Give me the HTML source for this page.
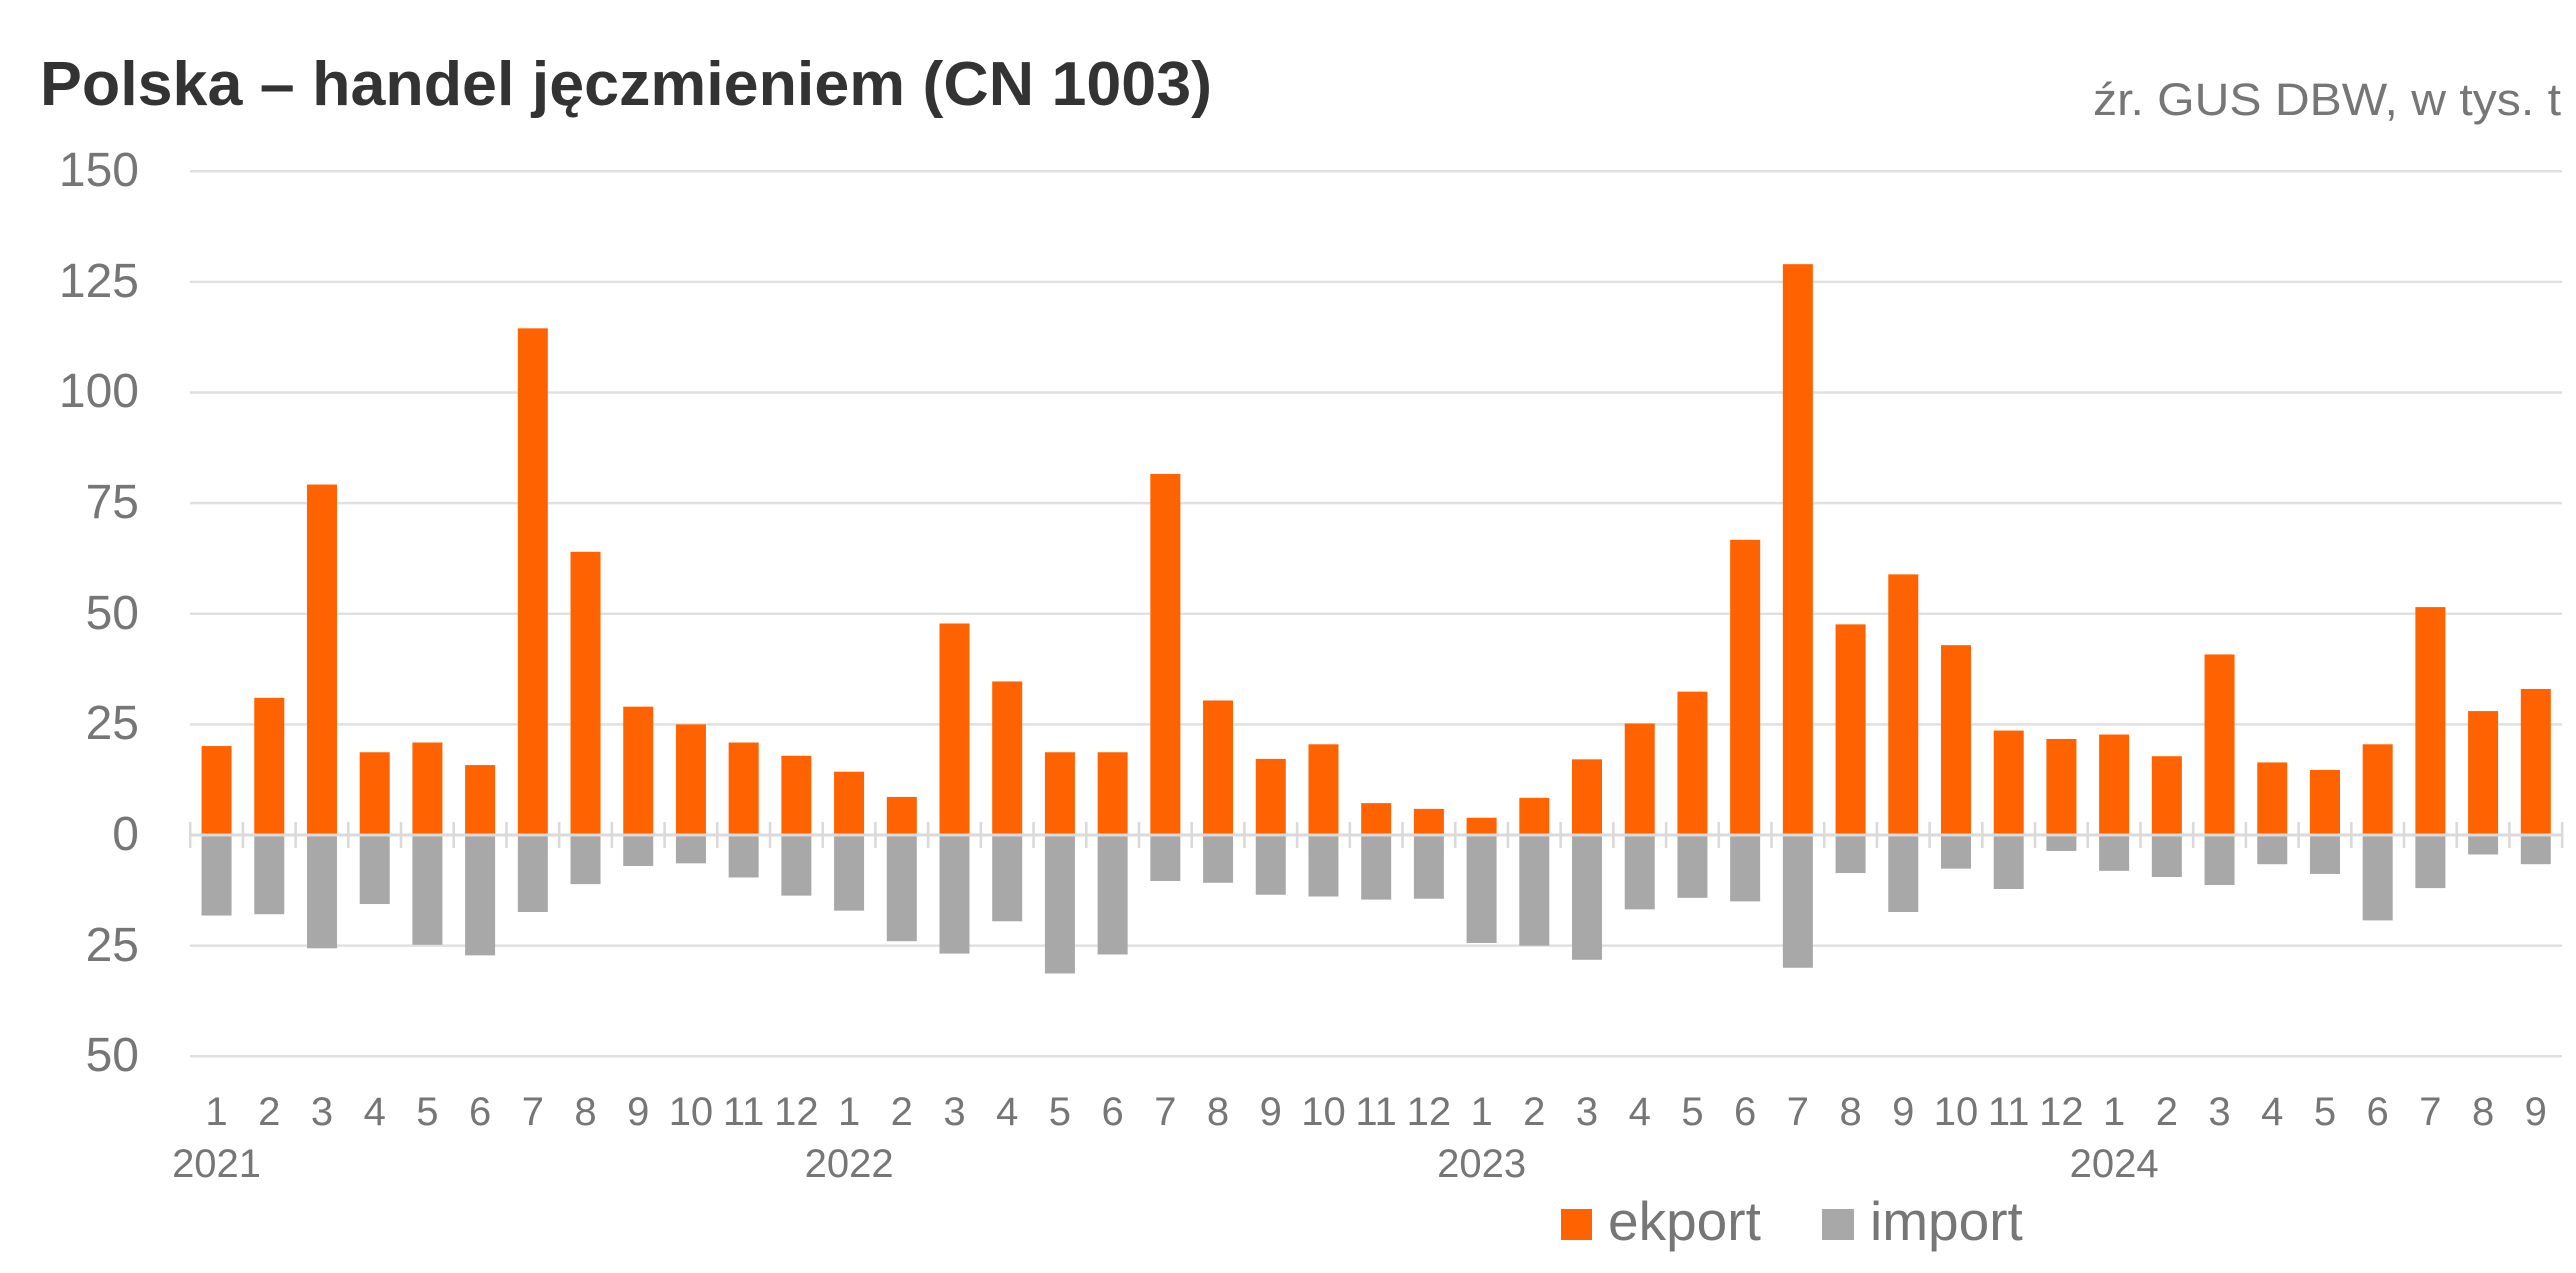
<!DOCTYPE html>
<html>
<head>
<meta charset="utf-8">
<style>
html,body{margin:0;padding:0;background:#fff;}
svg{display:block;}
text{font-family:"Liberation Sans", Arial, sans-serif;}
</style>
</head>
<body>
<svg width="2576" height="1273" viewBox="0 0 2576 1273" xmlns="http://www.w3.org/2000/svg">
<rect x="0" y="0" width="2576" height="1273" fill="#ffffff"/>
<text x="40" y="105" font-size="62" font-weight="bold" fill="#333333" textLength="1172" lengthAdjust="spacingAndGlyphs">Polska – handel jęczmieniem (CN 1003)</text>
<text x="2093" y="115" font-size="45" fill="#767676" textLength="468" lengthAdjust="spacingAndGlyphs">źr. GUS DBW, w tys. t</text>
<g stroke="#e0e0e0" stroke-width="2.6">
<line x1="190" x2="2562" y1="171.25" y2="171.25"/>
<line x1="190" x2="2562" y1="281.88" y2="281.88"/>
<line x1="190" x2="2562" y1="392.5" y2="392.5"/>
<line x1="190" x2="2562" y1="503.13" y2="503.13"/>
<line x1="190" x2="2562" y1="613.75" y2="613.75"/>
<line x1="190" x2="2562" y1="724.38" y2="724.38"/>
<line x1="190" x2="2562" y1="945.63" y2="945.63"/>
<line x1="190" x2="2562" y1="1056.25" y2="1056.25"/>
</g>
<g font-size="48" fill="#767676" text-anchor="end">
<text x="139" y="186">150</text>
<text x="139" y="297">125</text>
<text x="139" y="407">100</text>
<text x="139" y="518">75</text>
<text x="139" y="629">50</text>
<text x="139" y="739">25</text>
<text x="139" y="850">0</text>
<text x="139" y="961">25</text>
<text x="139" y="1071">50</text>
</g>
<g fill="#ff6200">
<rect x="201.56" y="746.06" width="30" height="88.94"/>
<rect x="254.27" y="697.82" width="30" height="137.18"/>
<rect x="306.98" y="484.54" width="30" height="350.46"/>
<rect x="359.69" y="752.25" width="30" height="82.75"/>
<rect x="412.40" y="742.52" width="30" height="92.48"/>
<rect x="465.11" y="765.08" width="30" height="69.92"/>
<rect x="517.82" y="328.34" width="30" height="506.66"/>
<rect x="570.53" y="551.80" width="30" height="283.20"/>
<rect x="623.24" y="706.67" width="30" height="128.33"/>
<rect x="675.95" y="724.37" width="30" height="110.63"/>
<rect x="728.66" y="742.52" width="30" height="92.48"/>
<rect x="781.37" y="755.79" width="30" height="79.21"/>
<rect x="834.08" y="771.72" width="30" height="63.28"/>
<rect x="886.79" y="796.94" width="30" height="38.06"/>
<rect x="939.50" y="623.48" width="30" height="211.52"/>
<rect x="992.21" y="681.45" width="30" height="153.55"/>
<rect x="1044.92" y="752.25" width="30" height="82.75"/>
<rect x="1097.63" y="752.25" width="30" height="82.75"/>
<rect x="1150.34" y="473.92" width="30" height="361.08"/>
<rect x="1203.05" y="700.48" width="30" height="134.52"/>
<rect x="1255.76" y="758.89" width="30" height="76.11"/>
<rect x="1308.47" y="744.29" width="30" height="90.71"/>
<rect x="1361.18" y="803.14" width="30" height="31.86"/>
<rect x="1413.89" y="808.89" width="30" height="26.11"/>
<rect x="1466.60" y="817.74" width="30" height="17.26"/>
<rect x="1519.31" y="797.83" width="30" height="37.17"/>
<rect x="1572.02" y="759.33" width="30" height="75.67"/>
<rect x="1624.73" y="723.49" width="30" height="111.51"/>
<rect x="1677.44" y="691.63" width="30" height="143.37"/>
<rect x="1730.15" y="539.85" width="30" height="295.15"/>
<rect x="1782.86" y="264.17" width="30" height="570.83"/>
<rect x="1835.57" y="624.37" width="30" height="210.63"/>
<rect x="1888.28" y="574.37" width="30" height="260.63"/>
<rect x="1940.99" y="645.17" width="30" height="189.83"/>
<rect x="1993.70" y="730.57" width="30" height="104.43"/>
<rect x="2046.41" y="738.98" width="30" height="96.02"/>
<rect x="2099.12" y="734.55" width="30" height="100.45"/>
<rect x="2151.83" y="756.23" width="30" height="78.77"/>
<rect x="2204.54" y="654.46" width="30" height="180.54"/>
<rect x="2257.25" y="762.43" width="30" height="72.57"/>
<rect x="2309.96" y="769.95" width="30" height="65.05"/>
<rect x="2362.67" y="744.29" width="30" height="90.71"/>
<rect x="2415.38" y="607.11" width="30" height="227.89"/>
<rect x="2468.09" y="711.10" width="30" height="123.90"/>
<rect x="2520.80" y="688.97" width="30" height="146.03"/>
</g>
<g fill="#a8a8a8">
<rect x="201.56" y="835" width="30" height="80.54"/>
<rect x="254.27" y="835" width="30" height="79.21"/>
<rect x="306.98" y="835" width="30" height="113.28"/>
<rect x="359.69" y="835" width="30" height="69.03"/>
<rect x="412.40" y="835" width="30" height="109.74"/>
<rect x="465.11" y="835" width="30" height="120.36"/>
<rect x="517.82" y="835" width="30" height="77.00"/>
<rect x="570.53" y="835" width="30" height="49.12"/>
<rect x="623.24" y="835" width="30" height="30.98"/>
<rect x="675.95" y="835" width="30" height="28.32"/>
<rect x="728.66" y="835" width="30" height="42.48"/>
<rect x="781.37" y="835" width="30" height="60.62"/>
<rect x="834.08" y="835" width="30" height="75.67"/>
<rect x="886.79" y="835" width="30" height="106.20"/>
<rect x="939.50" y="835" width="30" height="118.59"/>
<rect x="992.21" y="835" width="30" height="86.29"/>
<rect x="1044.92" y="835" width="30" height="138.50"/>
<rect x="1097.63" y="835" width="30" height="119.48"/>
<rect x="1150.34" y="835" width="30" height="46.02"/>
<rect x="1203.05" y="835" width="30" height="47.79"/>
<rect x="1255.76" y="835" width="30" height="59.74"/>
<rect x="1308.47" y="835" width="30" height="61.51"/>
<rect x="1361.18" y="835" width="30" height="64.61"/>
<rect x="1413.89" y="835" width="30" height="63.72"/>
<rect x="1466.60" y="835" width="30" height="107.97"/>
<rect x="1519.31" y="835" width="30" height="110.63"/>
<rect x="1572.02" y="835" width="30" height="124.79"/>
<rect x="1624.73" y="835" width="30" height="74.34"/>
<rect x="1677.44" y="835" width="30" height="62.84"/>
<rect x="1730.15" y="835" width="30" height="66.38"/>
<rect x="1782.86" y="835" width="30" height="132.75"/>
<rect x="1835.57" y="835" width="30" height="38.06"/>
<rect x="1888.28" y="835" width="30" height="77.00"/>
<rect x="1940.99" y="835" width="30" height="33.63"/>
<rect x="1993.70" y="835" width="30" height="53.99"/>
<rect x="2046.41" y="835" width="30" height="15.93"/>
<rect x="2099.12" y="835" width="30" height="35.84"/>
<rect x="2151.83" y="835" width="30" height="42.04"/>
<rect x="2204.54" y="835" width="30" height="50.00"/>
<rect x="2257.25" y="835" width="30" height="29.21"/>
<rect x="2309.96" y="835" width="30" height="38.94"/>
<rect x="2362.67" y="835" width="30" height="85.40"/>
<rect x="2415.38" y="835" width="30" height="53.10"/>
<rect x="2468.09" y="835" width="30" height="19.47"/>
<rect x="2520.80" y="835" width="30" height="29.21"/>
</g>
<line x1="188.9" x2="2564" y1="835" y2="835" stroke="#dadada" stroke-width="26" stroke-dasharray="2.6 50.11"/>
<line x1="190" x2="2563" y1="835" y2="835" stroke="#dadada" stroke-width="3"/>
<g font-size="40" fill="#767676" text-anchor="middle">
<text x="216.56" y="1125">1</text>
<text x="269.27" y="1125">2</text>
<text x="321.98" y="1125">3</text>
<text x="374.69" y="1125">4</text>
<text x="427.40" y="1125">5</text>
<text x="480.11" y="1125">6</text>
<text x="532.82" y="1125">7</text>
<text x="585.53" y="1125">8</text>
<text x="638.24" y="1125">9</text>
<text x="690.95" y="1125">10</text>
<text x="743.66" y="1125">11</text>
<text x="796.37" y="1125">12</text>
<text x="849.08" y="1125">1</text>
<text x="901.79" y="1125">2</text>
<text x="954.50" y="1125">3</text>
<text x="1007.21" y="1125">4</text>
<text x="1059.92" y="1125">5</text>
<text x="1112.63" y="1125">6</text>
<text x="1165.34" y="1125">7</text>
<text x="1218.05" y="1125">8</text>
<text x="1270.76" y="1125">9</text>
<text x="1323.47" y="1125">10</text>
<text x="1376.18" y="1125">11</text>
<text x="1428.89" y="1125">12</text>
<text x="1481.60" y="1125">1</text>
<text x="1534.31" y="1125">2</text>
<text x="1587.02" y="1125">3</text>
<text x="1639.73" y="1125">4</text>
<text x="1692.44" y="1125">5</text>
<text x="1745.15" y="1125">6</text>
<text x="1797.86" y="1125">7</text>
<text x="1850.57" y="1125">8</text>
<text x="1903.28" y="1125">9</text>
<text x="1955.99" y="1125">10</text>
<text x="2008.70" y="1125">11</text>
<text x="2061.41" y="1125">12</text>
<text x="2114.12" y="1125">1</text>
<text x="2166.83" y="1125">2</text>
<text x="2219.54" y="1125">3</text>
<text x="2272.25" y="1125">4</text>
<text x="2324.96" y="1125">5</text>
<text x="2377.67" y="1125">6</text>
<text x="2430.38" y="1125">7</text>
<text x="2483.09" y="1125">8</text>
<text x="2535.80" y="1125">9</text>
<text x="216.56" y="1177">2021</text>
<text x="849.08" y="1177">2022</text>
<text x="1481.60" y="1177">2023</text>
<text x="2114.12" y="1177">2024</text>
</g>
<rect x="1561" y="1209" width="31" height="31" fill="#ff6200"/>
<text x="1608" y="1240" font-size="55" fill="#767676">ekport</text>
<rect x="1822" y="1209" width="32" height="31" fill="#a8a8a8"/>
<text x="1870" y="1240" font-size="55" fill="#767676">import</text>
</svg>
</body>
</html>
